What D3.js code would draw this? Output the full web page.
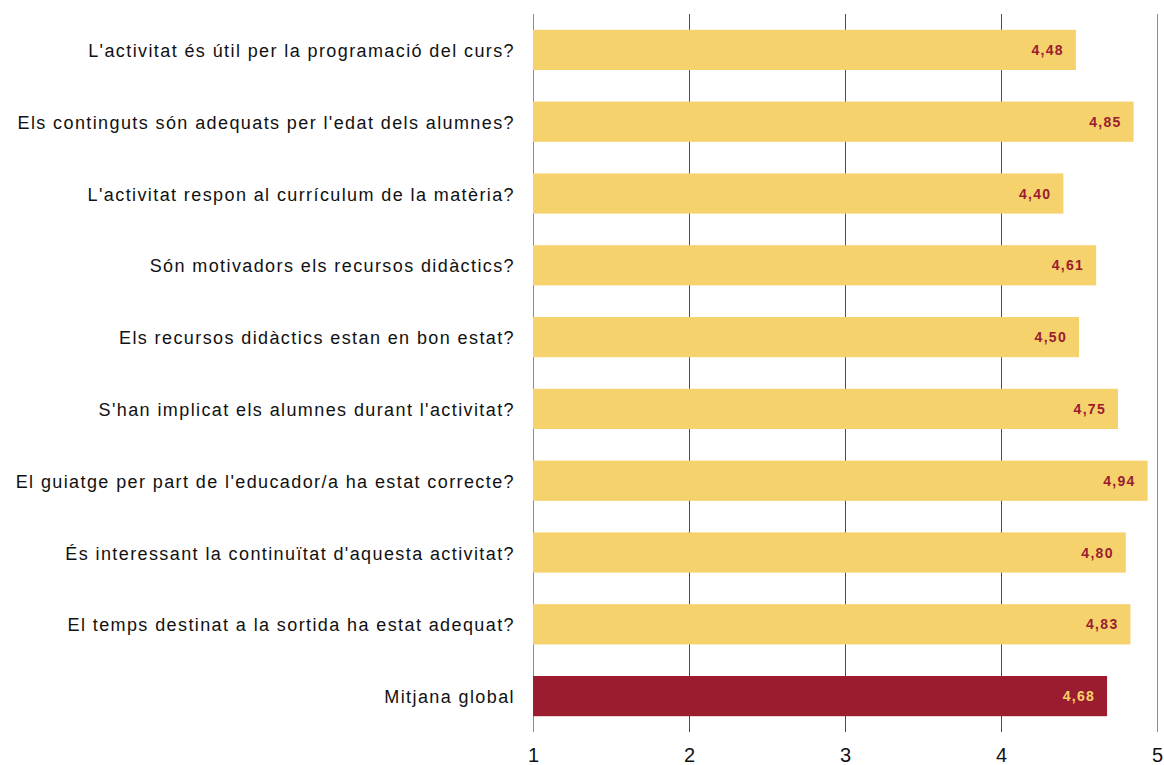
<!doctype html>
<html lang="ca">
<head>
<meta charset="UTF-8">
<title>Valoració de l'activitat</title>
<script src="https://d3js.org/d3.v7.min.js"></script>
<style>
  body { margin: 0; background: #fff; }
</style>
</head>
<body>
<div id="chart"></div>
<script>
// categories (top to bottom) and their mean scores
const questions = [
  "L'activitat és útil per la programació del curs?",
  "Els continguts són adequats per l'edat dels alumnes?",
  "L'activitat respon al currículum de la matèria?",
  "Són motivadors els recursos didàctics?",
  "Els recursos didàctics estan en bon estat?",
  "S'han implicat els alumnes durant l'activitat?",
  "El guiatge per part de l'educador/a ha estat correcte?",
  "És interessant la continuïtat d'aquesta activitat?",
  "El temps destinat a la sortida ha estat adequat?",
  "Mitjana global"
];
const scores = [4.48, 4.85, 4.40, 4.61, 4.50, 4.75, 4.94, 4.80, 4.83, 4.68];
const tickValues = [1, 2, 3, 4, 5];

const width = 1164, height = 765;
const plotLeft = 533, plotRight = 1157, plotTop = 14, plotBottom = 732;

const svg = d3.select("#chart").append("svg")
  .attr("width", width)
  .attr("height", height);

const x = d3.scaleLinear().domain([1, 5]).range([plotLeft, plotRight]);
const y = d3.scaleBand().domain(questions).range([plotTop, plotBottom])
  .paddingInner(0.44).paddingOuter(0.22);

// vertical gridlines
svg.selectAll("line.grid")
  .data(tickValues)
  .enter().append("line")
    .attr("class", "grid")
    .attr("x1", d => Math.round(x(d)) + 0.5)
    .attr("x2", d => Math.round(x(d)) + 0.5)
    .attr("y1", plotTop)
    .attr("y2", plotBottom)
    .attr("stroke", d => (d === 1 || d === 5) ? "#d46a7a" : "#9b2a3e")
    .attr("stroke-width", 1);

// bars
svg.selectAll("rect.bar")
  .data(questions)
  .enter().append("rect")
    .attr("class", "bar")
    .attr("x", x(1))
    .attr("y", d => y(d))
    .attr("width", (d, i) => x(scores[i]) - x(1))
    .attr("height", y.bandwidth())
    .attr("fill", (d, i) => i === questions.length - 1 ? "#9b1c2e" : "#f6d26d");

// value labels inside bars
svg.selectAll("text.val")
  .data(questions)
  .enter().append("text")
    .attr("class", "val")
    .attr("x", (d, i) => x(scores[i]) - 12)
    .attr("y", d => y(d) + y.bandwidth() / 2 + 5)
    .attr("text-anchor", "end")
    .attr("font-family", "Liberation Sans, Arial, sans-serif")
    .attr("font-size", "14px")
    .attr("font-weight", "bold")
    .attr("letter-spacing", "1.3px")
    .attr("fill", (d, i) => i === questions.length - 1 ? "#f6d26d" : "#9b1c2e")
    .text((d, i) => scores[i].toFixed(2).replace(".", ","));

// category labels
svg.selectAll("text.cat")
  .data(questions)
  .enter().append("text")
    .attr("class", "cat")
    .attr("x", 515)
    .attr("y", d => y(d) + y.bandwidth() / 2 + 7)
    .attr("text-anchor", "end")
    .attr("font-family", "Liberation Sans, Arial, sans-serif")
    .attr("font-size", "18px")
    .attr("letter-spacing", "1.4px")
    .attr("fill", "#111")
    .text(d => d);

// x axis tick labels
const xAxis = d3.axisBottom(x).tickValues(tickValues).tickSize(0).tickPadding(0)
  .tickFormat(d3.format("d"));
const gx = svg.append("g")
  .attr("transform", "translate(0," + (plotBottom + 16) + ")")
  .call(xAxis);
gx.select(".domain").remove();
gx.selectAll("text")
  .attr("font-family", "Liberation Sans, Arial, sans-serif")
  .attr("font-size", "20px")
  .attr("fill", "#111")
  .attr("dy", "0.71em");
</script>
</body>
</html>
